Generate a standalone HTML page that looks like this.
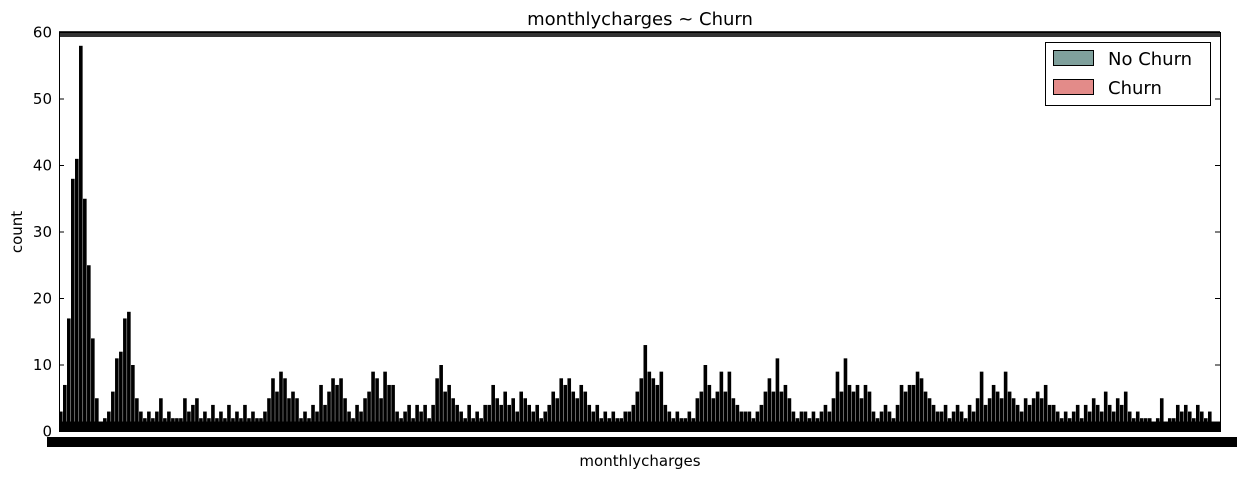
<!DOCTYPE html>
<html><head><meta charset="utf-8"><style>
body{margin:0;background:#fff;}
svg text{font-family:"DejaVu Sans","Liberation Sans",sans-serif;}
</style></head><body>
<svg id="chart" width="1247" height="479" xmlns="http://www.w3.org/2000/svg">
<rect width="1247" height="479" fill="#fff"/>
<text x="640" y="25" font-size="18" text-anchor="middle">monthlycharges ~ Churn</text>
<g id="bars"></g>
<rect x="59" y="31" width="1161" height="6" fill="#333"/>
<rect x="59.5" y="32.5" width="1161" height="399" fill="none" stroke="#000" stroke-width="1"/>
<rect x="47" y="437" width="1190" height="10" fill="#000"/>
<g id="yticks"></g>
<text x="640" y="466" font-size="15" text-anchor="middle">monthlycharges</text>
<text x="0" y="0" font-size="15" text-anchor="middle" transform="translate(22,232) rotate(-90)">count</text>
<g>
<rect x="1045.5" y="42.5" width="165" height="63" fill="#fff" stroke="#000"/>
<g>
<rect x="1053.5" y="50.5" width="40" height="15" fill="#7fa09c" stroke="#000"/>
<text x="1108" y="65" font-size="18">No Churn</text></g>
<g>
<rect x="1053.5" y="79.5" width="40" height="15" fill="#e38b89" stroke="#000"/>
<text x="1108" y="94" font-size="18">Churn</text></g>
</g>
</svg>
<script>
const counts = [3,7,17,38,41,58,35,25,14,5,
1,2,3,6,11,12,17,18,10,5,
3,2,3,2,3,5,2,3,2,2,
2,5,3,4,5,2,3,2,4,2,
3,2,4,2,3,2,4,2,3,2,
2,3,5,8,6,9,8,5,6,5,
2,3,2,4,3,7,4,6,8,7,
8,5,3,2,4,3,5,6,9,8,
5,9,7,7,3,2,3,4,2,4,
3,4,2,4,8,10,6,7,5,4,
3,2,4,2,3,2,4,4,7,5,
4,6,4,5,3,6,5,4,3,4,
2,3,4,6,5,8,7,8,6,5,
7,6,4,3,4,2,3,2,3,2,
2,3,3,4,6,8,13,9,8,7,
9,4,3,2,3,2,2,3,2,5,
6,10,7,5,6,9,6,9,5,4,
3,3,3,2,3,4,6,8,6,11,
6,7,5,3,2,3,3,2,3,2,
3,4,3,5,9,6,11,7,6,7,
5,7,6,3,2,3,4,3,2,4,
7,6,7,7,9,8,6,5,4,3,
3,4,2,3,4,3,2,4,3,5,
9,4,5,7,6,5,9,6,5,4,
3,5,4,5,6,5,7,4,4,3,
2,3,2,3,4,2,4,3,5,4,
3,6,4,3,5,4,6,3,2,3,
2,2,2,1,2,5,1,2,2,4,
3,4,3,2,4,3,2,3,1,1];
const yTicks = [0,10,20,30,40,50,60];
const X0=59, X1=1220, Y0=431.5, Y1=32.5, YMAX=60;
const xs = i => X0 + i*(X1-X0)/counts.length;
const ys = v => Y0 - v*(Y0-Y1)/YMAX;
const NS="http://www.w3.org/2000/svg";
const bg=document.getElementById('bars');
const bw=(X1-X0)/counts.length;
counts.forEach((v,i)=>{
  const r=document.createElementNS(NS,'rect');
  
  
  r.setAttribute('x',xs(i)); r.setAttribute('width',bw*0.9);
  r.setAttribute('y',ys(v)); r.setAttribute('height',Y0-ys(v));
  r.setAttribute('fill','#000');
  bg.appendChild(r);
});
const base=document.createElementNS(NS,'rect');


base.setAttribute('x',X0);base.setAttribute('width',X1-X0);
base.setAttribute('y',ys(1.5));base.setAttribute('height',Y0-ys(1.5));
bg.appendChild(base);
const yg=document.getElementById('yticks');
yTicks.forEach(t=>{
  const tx=document.createElementNS(NS,'text');
  
  
  tx.setAttribute('x',52);tx.setAttribute('y',ys(t)+5);
  tx.setAttribute('font-size','15');tx.setAttribute('text-anchor','end');
  tx.textContent=t;
  yg.appendChild(tx);
  [[X0,X0+5],[X1-5,X1]].forEach(([a,b])=>{
    const l=document.createElementNS(NS,'line');
    
    
    l.setAttribute('x1',a);l.setAttribute('x2',b);
    l.setAttribute('y1',ys(t));l.setAttribute('y2',ys(t));
    l.setAttribute('stroke','#000');
    yg.appendChild(l);
  });
});
</script>
</body></html>
